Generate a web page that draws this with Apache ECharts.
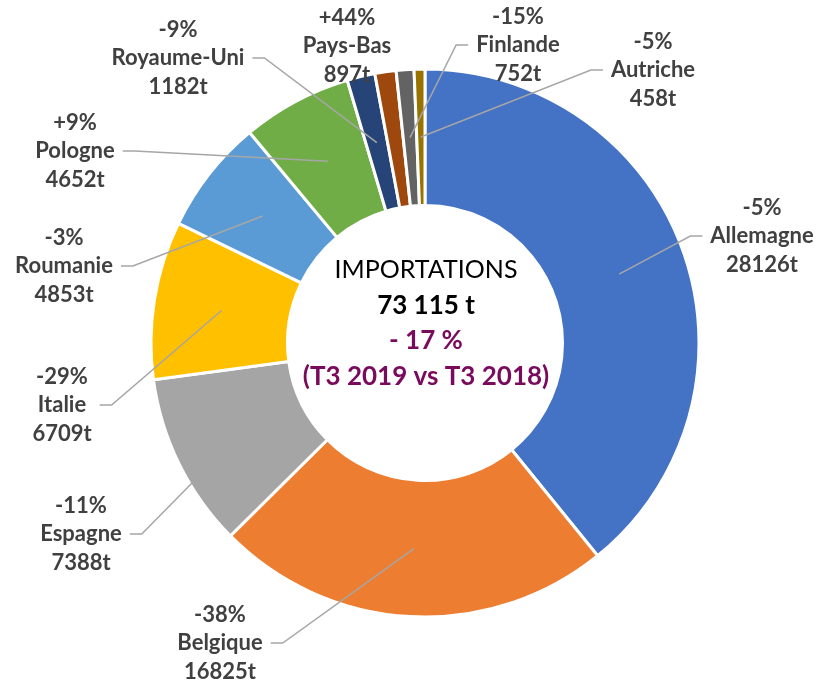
<!DOCTYPE html>
<html>
<head>
<meta charset="utf-8">
<script src="https://cdn.jsdelivr.net/npm/echarts@6/dist/echarts.min.js"></script>
<style>
  html, body { margin: 0; padding: 0; background: #fff; }
  #chart { width: 820px; height: 685px; }
</style>
</head>
<body>
<div id="chart"></div>
<script>
// values
const countries = ['Allemagne', 'Belgique', 'Espagne', 'Italie', 'Roumanie', 'Pologne', 'Royaume-Uni', 'Pays-Bas', 'Finlande', 'Autriche']
const tonnages = [28126, 16825, 7388, 6709, 4853, 4652, 1182, 897, 752, 458]
const changes = ['-5%', '-38%', '-11%', '-29%', '-3%', '+9%', '-9%', '+44%', '-15%', '-5%']

const centerTitle = 'IMPORTATIONS'
const centerTotal = '73 115 t'
const centerChange = '- 17 %'
const centerPeriod = '(T3 2019 vs T3 2018)'

// styling / layout
const colors = ['#4472C4', '#ED7D31', '#A5A5A5', '#FFC000', '#5B9BD5', '#70AD47', '#264478', '#9E480E', '#636363', '#997300']
const labelPos = [[762, 236], [220, 643], [81, 534], [62, 405], [64, 266], [75, 151], [178, 58], [347, 46], [518, 45], [653, 70]]
const showLine = [true, true, true, true, true, true, true, false, true, true]
const pieCenter = [425, 343]

const chart = echarts.init(document.getElementById('chart'), null, { renderer: 'canvas' })

const sliceData = countries.map((name, i) => ({
  name: name,
  value: tonnages[i],
  itemStyle: { color: colors[i] },
}))

const labelData = countries.map((name, i) => ({
  name: name,
  value: tonnages[i],
  labelLine: { show: showLine[i] },
}))

chart.setOption({
  animation: false,
  backgroundColor: '#fff',
  graphic: [
    {
      type: 'text',
      x: 426,
      y: 323,
      silent: true,
      style: {
        text: '{a|' + centerTitle + '}\n{b|' + centerTotal + '}\n{c|' + centerChange + '}\n{c|' + centerPeriod + '}',
        align: 'center',
        verticalAlign: 'middle',
        rich: {
          a: { fontFamily: 'Lato', fontSize: 25, fill: '#000', lineHeight: 35.7, align: 'center' },
          b: { fontFamily: 'Lato', fontSize: 26, fontWeight: 'bold', fill: '#000', lineHeight: 35.7, align: 'center' },
          c: { fontFamily: 'Lato', fontSize: 26, fontWeight: 'bold', fill: '#7A0B5C', lineHeight: 35.7, align: 'center' },
        },
      },
    },
  ],
  series: [
    {
      type: 'pie',
      center: pieCenter,
      radius: [137.5, 274],
      startAngle: 90,
      clockwise: true,
      silent: true,
      label: { show: false },
      labelLine: { show: false },
      itemStyle: { borderColor: '#fff', borderWidth: 3 },
      data: sliceData,
    },
    {
      // transparent copy: only carries the labels and leader lines
      type: 'pie',
      z: 3,
      center: pieCenter,
      radius: [0, 206],
      startAngle: 90,
      clockwise: true,
      silent: true,
      itemStyle: { color: 'rgba(0,0,0,0)', borderWidth: 0 },
      label: {
        show: true,
        position: 'outside',
        fontFamily: 'Lato',
        fontSize: 22,
        fontWeight: 'bold',
        color: '#404040',
        lineHeight: 28.5,
        align: 'center',
        formatter: (p) => changes[p.dataIndex] + '\n' + p.name + '\n' + p.value + 't',
      },
      labelLine: {
        show: true,
        length: 10,
        length2: 10,
        lineStyle: { color: '#A6A6A6', width: 1.5, opacity: 1 },
      },
      labelLayout: (params) => {
        const i = params.dataIndex
        const pos = labelPos[i]
        const out = { x: pos[0], y: pos[1], align: 'center', verticalAlign: 'middle' }
        const pts = params.labelLinePoints
        if (pts && showLine[i]) {
          const side = pos[0] < pieCenter[0] ? 1 : -1
          const edge = pos[0] + side * (params.labelRect.width / 2 + 8)
          out.labelLinePoints = [pts[0], [edge + side * 12, pos[1]], [edge, pos[1]]]
        }
        return out
      },
      data: labelData,
    },
  ],
})
</script>
</body>
</html>
